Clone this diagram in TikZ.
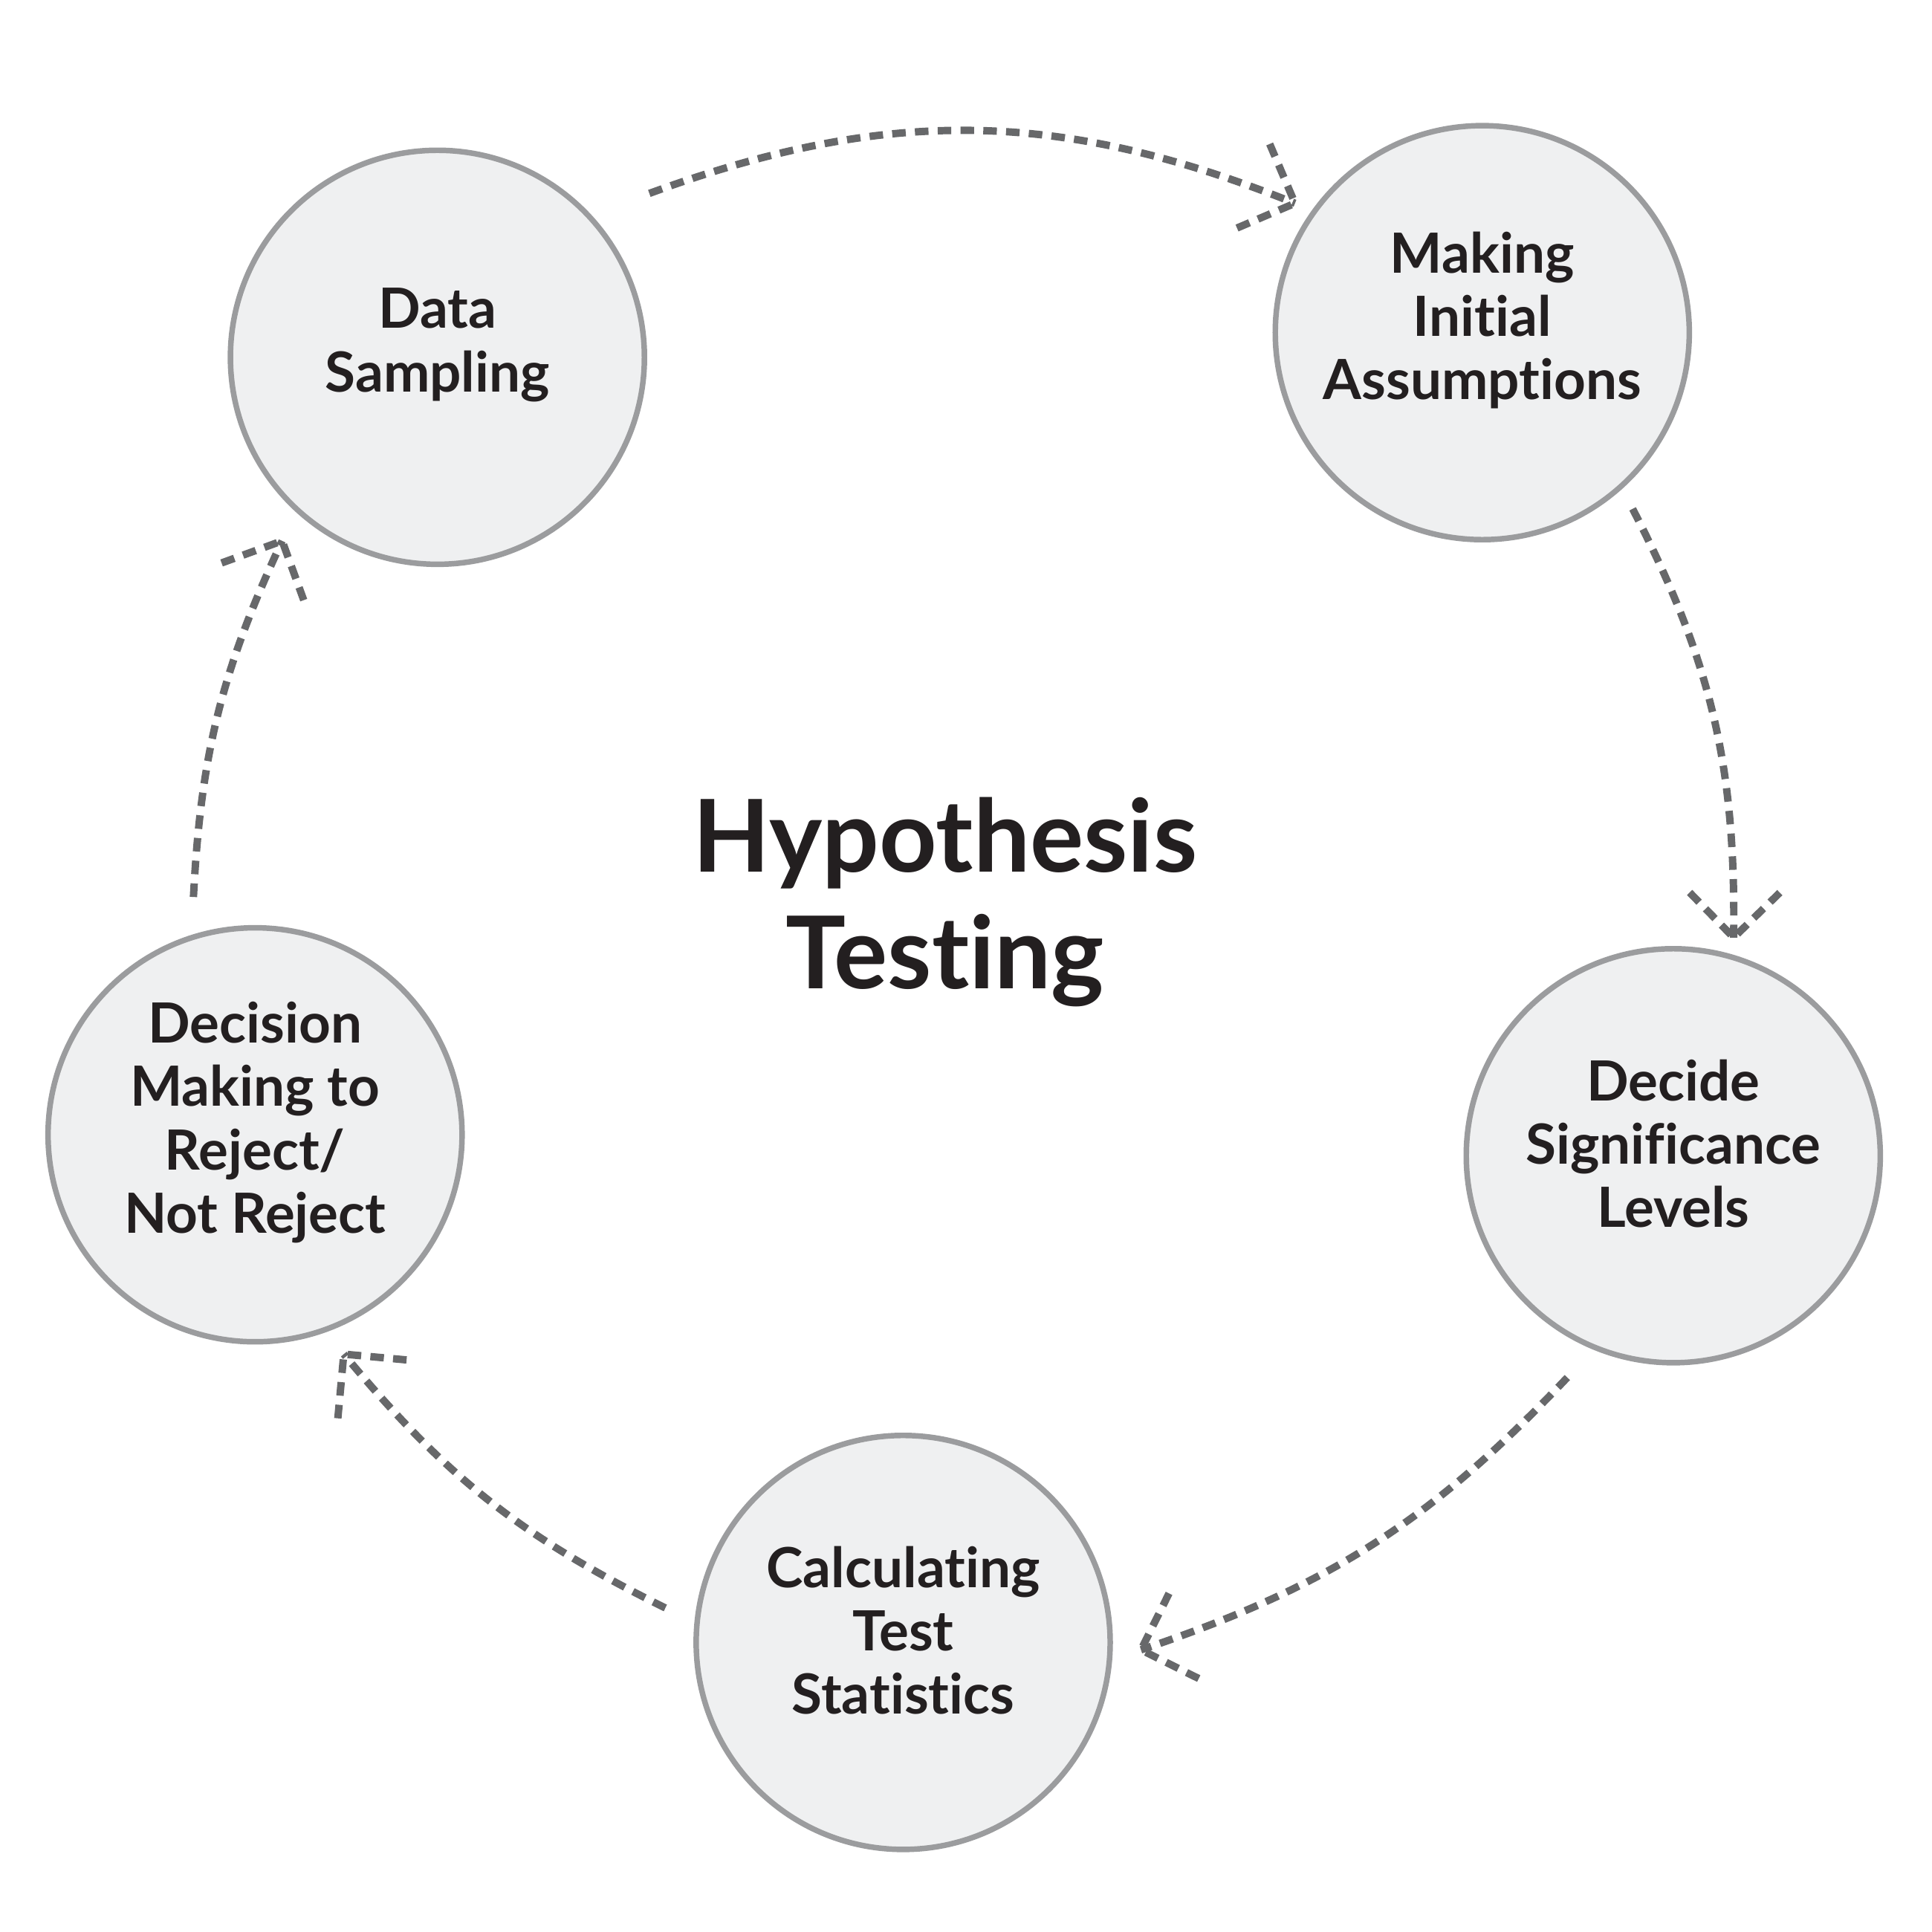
\documentclass[tikz,border=0pt]{standalone}
\usepackage{fontspec}
\setmainfont{Lato}[Ligatures=NoCommon]
\usetikzlibrary{
    positioning,
    decorations.markings
}
\definecolor{arrowgray}{RGB}{103, 104, 106}
\definecolor{ringgray}{RGB}{155, 156, 158}
\definecolor{fillgray}{RGB}{239, 240, 241}
\definecolor{inkblack}{RGB}{35, 31, 32}

\begin{document}
\begin{tikzpicture}[
        stage/.style={circle, draw=ringgray, line width=0.045cm, fill=fillgray, minimum size=3.36cm, inner sep=0pt},
        stagetext/.style={align=center, font=\bfseries\fontsize{12.8}{14.6}\selectfont, text=inkblack, yshift=0.1cm},
        chevron/.style={draw=arrowgray, line width=0.06cm, dash pattern=on 0.11cm off 0.075cm},
        cyclearrow/.style={chevron, postaction={decorate, decoration={markings,
            mark=at position 1 with {\draw[chevron] (-0.37,0.37) -- (0,0) -- (-0.37,-0.37);}}}}
    ]
        \useasboundingbox (0,0) rectangle (15.68,15.68);

        % Stages
        \node[stage] (ds) at (3.55, 12.78) {};
        \node[stagetext] (ds-text) at (ds) {Data\\Sampling};

        \node[stage] (mia) at (12.03, 12.98) {};
        \node[stagetext] (mia-text) at (mia) {Making\\Initial\\Assumptions};

        \node[stage] (dsl) at (13.58, 6.30) {};
        \node[stagetext] (dsl-text) at (dsl) {Decide\\Significance\\Levels};

        \node[stage] (cts) at (7.33, 2.35) {};
        \node[stagetext] (cts-text) at (cts) {Calculating\\Test\\Statistics};

        \node[stage] (dmk) at (2.07, 6.47) {};
        \node[stagetext] (dmk-text) at (dmk) {Decision\\Making to\\Reject/\\Not Reject};

        % Title
        \node[align=center, font=\bfseries\fontsize{23.2}{27}\selectfont, text=inkblack] (title) at (7.67, 8.36) {Hypothesis\\Testing};

        % Arrow ends
        \coordinate (ds-out) at (5.27, 14.11);
        \coordinate (mia-in) at (10.51, 14.03);
        \coordinate (mia-out) at (13.25, 11.55);
        \coordinate (dsl-in) at (14.07, 8.07);
        \coordinate (dsl-out) at (12.72, 4.50);
        \coordinate (cts-in) at (9.26, 2.29);
        \coordinate (cts-out) at (5.40, 2.63);
        \coordinate (dmk-in) at (2.79, 4.69);
        \coordinate (dmk-out) at (1.57, 8.40);
        \coordinate (ds-in) at (2.29, 11.29);

        % Arrows
        \draw[cyclearrow] (ds-out) to[bend left=21] (mia-in);
        \draw[cyclearrow] (mia-out) to[bend left=14] (dsl-in);
        \draw[cyclearrow] (dsl-out) to[bend left=14] (cts-in);
        \draw[cyclearrow] (cts-out) to[bend left=12] (dmk-in);
        \draw[cyclearrow] (dmk-out) to[bend left=11] (ds-in);
    \end{tikzpicture}
\end{document}
